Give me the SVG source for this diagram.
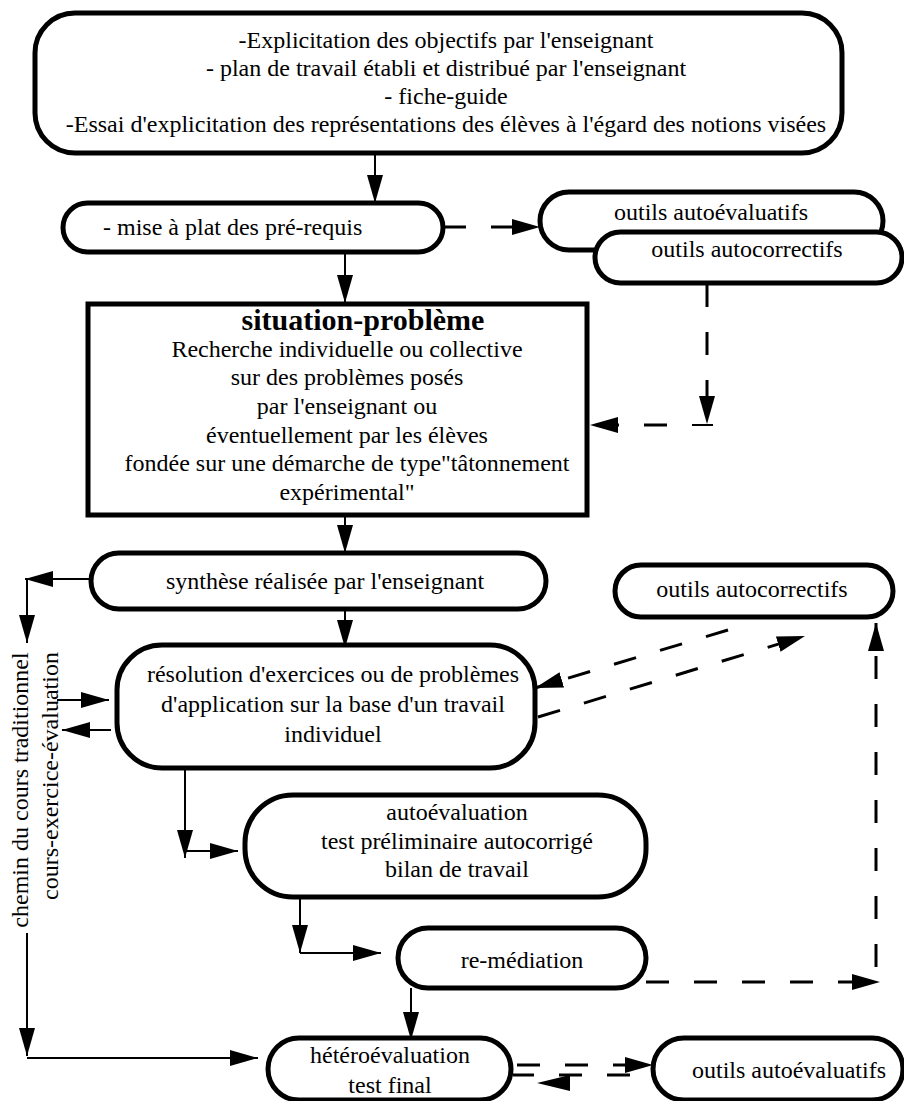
<svg xmlns="http://www.w3.org/2000/svg" width="904" height="1101" viewBox="0 0 904 1101">
<style>
.box{fill:#fff;stroke:#000;stroke-width:5}
.t{font-family:"Liberation Serif","Times New Roman",serif;font-size:24px;fill:#000;text-anchor:middle}
.tl{text-anchor:start}
.title{font-weight:bold;font-size:30px}
.c{fill:none;stroke:#000;stroke-width:2}
.d{fill:none;stroke:#000;stroke-width:3;stroke-dasharray:23 25}
</style>
<defs>
<marker id="ah" markerUnits="userSpaceOnUse" markerWidth="30" markerHeight="18" refX="28" refY="8" orient="auto" viewBox="0 0 30 18">
<path d="M0,0 L28,8 L0,16 z" fill="#000" stroke="none"/>
</marker>
</defs>
<rect width="904" height="1101" fill="#fff"/>
<g id="connectors">
<path class="c" d="M375,153 V203" marker-end="url(#ah)"/>
<path class="c" d="M345,253 V303" marker-end="url(#ah)"/>
<path class="d" d="M443,227 H540" marker-end="url(#ah)"/>
<path class="d" d="M707,284 V424" marker-end="url(#ah)"/>
<path class="c" d="M692,425 H713"/>
<path class="d" d="M667,425 H590" marker-end="url(#ah)"/>
<path class="c" d="M345,515 V553" marker-end="url(#ah)"/>
<path class="c" d="M345,610 V648" marker-end="url(#ah)"/>
<path class="c" d="M90,579 H25" marker-end="url(#ah)"/>
<path class="c" d="M27,579 V643" marker-end="url(#ah)"/>
<path class="c" d="M27,933 V1056" marker-end="url(#ah)"/>
<path class="c" d="M27,1058 H258" marker-end="url(#ah)"/>
<path class="c" d="M57,700 H109" marker-end="url(#ah)"/>
<path class="c" d="M111,730 H62" marker-end="url(#ah)"/>
<path class="c" d="M185,768 V858" marker-end="url(#ah)"/>
<path class="c" d="M185,851 H238" marker-end="url(#ah)"/>
<path class="c" d="M300,897 V953" marker-end="url(#ah)"/>
<path class="c" d="M300,953 H381" marker-end="url(#ah)"/>
<path class="c" d="M411,988 V1040" marker-end="url(#ah)"/>
<path class="d" d="M646,982 H880" marker-end="url(#ah)"/>
<path class="d" d="M876,967 V623" marker-end="url(#ah)"/>
<path class="d" d="M728,630 L535,688" marker-end="url(#ah)"/>
<path class="d" d="M538,717 L805,636" marker-end="url(#ah)"/>
<path class="d" d="M517,1065 H653" marker-end="url(#ah)"/>
<path class="d" d="M630,1075 H513"/>
<polygon points="537,1083 570,1075 570,1091" fill="#000"/>
</g>
<g id="n-top">
<rect class="box" x="35" y="13" width="807" height="140" rx="40"/>
<text class="t" x="446" y="48">-Explicitation des objectifs par l'enseignant</text>
<text class="t" x="446" y="76">- plan de travail établi et distribué par l'enseignant</text>
<text class="t" x="446" y="104">- fiche-guide</text>
<text class="t" x="446" y="132">-Essai d'explicitation des représentations des élèves à l'égard des notions visées</text>
</g>
<g id="n-mise">
<rect class="box" x="63" y="203" width="380" height="49" rx="24.5"/>
<text class="t tl" x="103" y="235">- mise à plat des pré-requis</text>
</g>
<g id="n-outils-ae1">
<rect class="box" x="540" y="192" width="343" height="58" rx="29"/>
<text class="t" x="711" y="220">outils autoévaluatifs</text>
</g>
<g id="n-outils-ac1">
<rect class="box" x="595" y="232" width="307" height="51" rx="25.5"/>
<text class="t" x="747" y="257">outils autocorrectifs</text>
</g>
<g id="n-situation">
<rect class="box" x="88" y="304" width="499" height="211"/>
<text class="t title" x="363" y="330">situation-problème</text>
<text class="t" x="347" y="357">Recherche individuelle ou collective</text>
<text class="t" x="347" y="385">sur des problèmes posés</text>
<text class="t" x="347" y="414">par l'enseignant ou</text>
<text class="t" x="347" y="443">éventuellement par les élèves</text>
<text class="t" x="347" y="471">fondée sur une démarche de type"tâtonnement</text>
<text class="t" x="347" y="500">expérimental"</text>
</g>
<g id="n-synthese">
<rect class="box" x="91" y="553" width="455" height="56" rx="28"/>
<text class="t" x="325" y="589">synthèse réalisée par l'enseignant</text>
</g>
<g id="n-outils-ac2">
<rect class="box" x="615" y="565" width="278" height="52" rx="26"/>
<text class="t" x="752" y="597">outils autocorrectifs</text>
</g>
<g id="n-resolution">
<rect class="box" x="117" y="645" width="418" height="123" rx="45"/>
<text class="t" x="333" y="682">résolution d'exercices ou de problèmes</text>
<text class="t" x="333" y="712">d'application sur la base d'un travail</text>
<text class="t" x="333" y="742">individuel</text>
</g>
<g id="n-chemin">
<text class="t" transform="translate(28,790) rotate(-90)">chemin du cours traditionnel</text>
<text class="t" transform="translate(58,776) rotate(-90)">cours-exercice-évaluation</text>
</g>
<g id="n-autoeval">
<rect class="box" x="245" y="795" width="401" height="102" rx="48"/>
<text class="t" x="457" y="820">autoévaluation</text>
<text class="t" x="457" y="849">test préliminaire autocorrigé</text>
<text class="t" x="457" y="877">bilan de travail</text>
</g>
<g id="n-remediation">
<rect class="box" x="398" y="928" width="248" height="60" rx="30"/>
<text class="t" x="522" y="968">re-médiation</text>
</g>
<g id="n-hetero">
<rect class="box" x="268" y="1038" width="243" height="62" rx="31"/>
<text class="t" x="390" y="1063">hétéroévaluation</text>
<text class="t" x="390" y="1093">test final</text>
</g>
<g id="n-outils-ae2">
<rect class="box" x="653" y="1038" width="250" height="62" rx="31"/>
<text class="t" x="789" y="1078">outils autoévaluatifs</text>
</g>
</svg>
